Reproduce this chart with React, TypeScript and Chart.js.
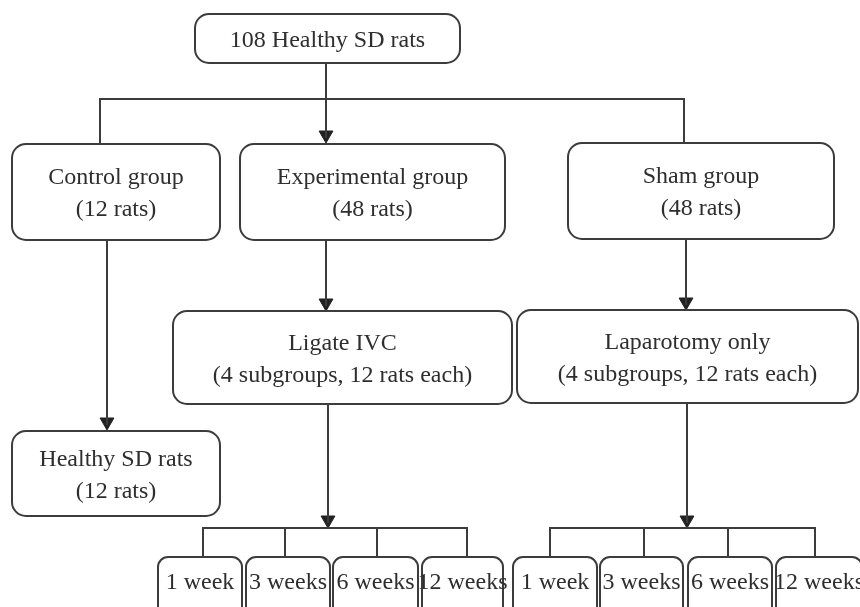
import React, { useEffect, useRef } from "react";
import { Chart, registerables } from "chart.js";

Chart.register(...registerables);

// Node texts (one entry per box, lines of text)
const nodeLabels: string[][] = [
  ["108 Healthy SD rats"],
  ["Control group", "(12 rats)"],
  ["Experimental group", "(48 rats)"],
  ["Sham group", "(48 rats)"],
  ["Ligate IVC", "(4 subgroups, 12 rats each)"],
  ["Laparotomy only", "(4 subgroups, 12 rats each)"],
  ["Healthy SD rats", "(12 rats)"],
];

const timeLabels: string[] = ["1 week", "3 weeks", "6 weeks", "12 weeks"];

// Box extents in diagram units [x0, y0, x1, y1]
const nodeBoxes: number[][] = [
  [195, 14, 460, 63],
  [12, 144, 220, 240],
  [240, 144, 505, 240],
  [568, 143, 834, 239],
  [173, 311, 512, 404],
  [517, 310, 858, 403],
  [12, 431, 220, 516],
];

const leftTimeBoxes: number[][] = [
  [158, 557, 242, 616],
  [246, 557, 330, 616],
  [333, 557, 418, 616],
  [422, 557, 503, 616],
];

const rightTimeBoxes: number[][] = [
  [513, 557, 597, 616],
  [600, 557, 683, 616],
  [688, 557, 772, 616],
  [776, 557, 862, 616],
];

// Connector polylines in diagram units
const connectors: number[][][] = [
  [[326, 63], [326, 138]],
  [[100, 143], [100, 99], [684, 99], [684, 143]],
  [[107, 240], [107, 425]],
  [[326, 240], [326, 306]],
  [[686, 239], [686, 305]],
  [[328, 404], [328, 523]],
  [[687, 403], [687, 523]],
  [[203, 556], [203, 528], [467, 528], [467, 556]],
  [[285, 528], [285, 556]],
  [[377, 528], [377, 556]],
  [[550, 556], [550, 528], [815, 528], [815, 556]],
  [[644, 528], [644, 556]],
  [[728, 528], [728, 556]],
];

// Arrow tips
const arrowTips: number[][] = [
  [326, 143],
  [107, 430],
  [326, 311],
  [686, 310],
  [328, 528],
  [687, 528],
];

const LINE = "#3c3c3c";
const TEXT = "#2e2e2e";
const FONT = '24px "Liberation Serif", "Times New Roman", serif';
const ARROW_R = 8;

function roundRect(ctx: CanvasRenderingContext2D, x0: number, y0: number, x1: number, y1: number, r: number) {
  ctx.beginPath();
  ctx.moveTo(x0 + r, y0);
  ctx.lineTo(x1 - r, y0);
  ctx.arcTo(x1, y0, x1, y0 + r, r);
  ctx.lineTo(x1, y1 - r);
  ctx.arcTo(x1, y1, x1 - r, y1, r);
  ctx.lineTo(x0 + r, y1);
  ctx.arcTo(x0, y1, x0, y1 - r, r);
  ctx.lineTo(x0, y0 + r);
  ctx.arcTo(x0, y0, x0 + r, y0, r);
  ctx.closePath();
}

const boxesPlugin = {
  id: "flowBoxes",
  afterDatasetsDraw(chart: any) {
    const ctx: CanvasRenderingContext2D = chart.ctx;
    const xs = chart.scales.x;
    const ys = chart.scales.y;
    const drawBox = (b: number[], lines: string[], radius: number, firstBaseline?: number) => {
      const x0 = xs.getPixelForValue(b[0]);
      const x1 = xs.getPixelForValue(b[2]);
      const y0 = ys.getPixelForValue(b[1]);
      const y1 = ys.getPixelForValue(b[3]);
      ctx.save();
      roundRect(ctx, x0, y0, x1, y1, radius);
      ctx.fillStyle = "#ffffff";
      ctx.fill();
      ctx.strokeStyle = LINE;
      ctx.lineWidth = 2;
      ctx.stroke();
      ctx.fillStyle = TEXT;
      ctx.font = FONT;
      ctx.textAlign = "center";
      ctx.textBaseline = "alphabetic";
      const cx = (x0 + x1) / 2;
      const cy = (y0 + y1) / 2;
      const gap = 32;
      lines.forEach((t, i) => {
        const yy =
          firstBaseline !== undefined
            ? y0 + firstBaseline + i * gap
            : cy + (i - (lines.length - 1) / 2) * gap + 8;
        ctx.fillText(t, cx, yy);
      });
      ctx.restore();
    };
    nodeBoxes.forEach((b, i) => drawBox(b, nodeLabels[i], 14));
    leftTimeBoxes.forEach((b, i) => drawBox(b, [timeLabels[i]], 10, 32));
    rightTimeBoxes.forEach((b, i) => drawBox(b, [timeLabels[i]], 10, 32));
  },
};

export default function App() {
  const ref = useRef<HTMLCanvasElement | null>(null);
  useEffect(() => {
    document.body.style.margin = "0";
    if (!ref.current) return;
    const lineSets = connectors.map((pts) => ({
      type: "line" as const,
      data: pts.map((p) => ({ x: p[0], y: p[1] })),
      borderColor: LINE,
      borderWidth: 2,
      pointRadius: 0,
      pointHoverRadius: 0,
      fill: false,
      tension: 0,
      clip: false as any,
    }));
    const arrowSet = {
      type: "scatter" as const,
      data: arrowTips.map((p) => ({ x: p[0], y: p[1] - ARROW_R })),
      pointStyle: "triangle",
      rotation: 180,
      pointRadius: ARROW_R,
      pointHoverRadius: ARROW_R,
      backgroundColor: "#222222",
      borderColor: "#222222",
      borderWidth: 1,
      clip: false as any,
    };
    const chart = new Chart(ref.current, {
      type: "line",
      data: { datasets: [...lineSets, arrowSet] as any },
      options: {
        animation: false,
        responsive: true,
        maintainAspectRatio: false,
        layout: { padding: 0, autoPadding: false } as any,
        events: [],
        plugins: { legend: { display: false }, tooltip: { enabled: false } },
        scales: {
          x: { type: "linear", min: 0, max: 860, display: false },
          y: { type: "linear", min: 0, max: 607, reverse: true, display: false },
        },
      },
      plugins: [boxesPlugin],
    });
    return () => chart.destroy();
  }, []);
  return (
    <div style={{ position: "absolute", left: 0, top: 0, width: 860, height: 607, background: "#fff" }}>
      <canvas ref={ref} />
    </div>
  );
}
